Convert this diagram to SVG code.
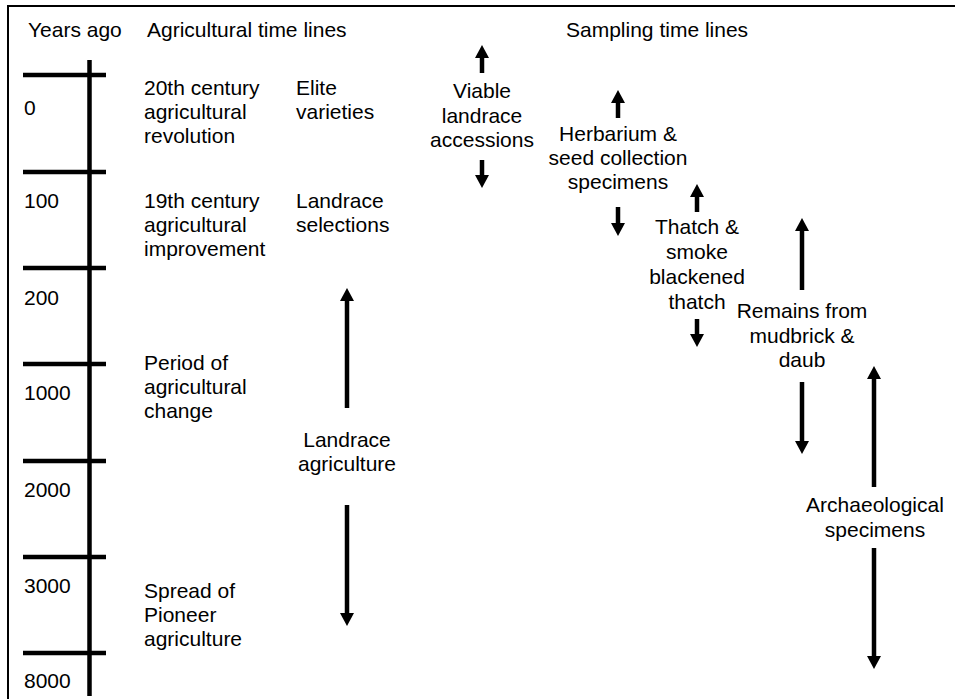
<svg xmlns="http://www.w3.org/2000/svg" width="955" height="699" viewBox="0 0 955 699">
<style>
text{font-family:"Liberation Sans",Arial,sans-serif;font-size:21px;fill:#000}
.c{text-anchor:middle}
.frame{stroke:#000;stroke-width:2;fill:none}
.axis{stroke:#000;stroke-width:4.5;fill:none}
.tick{stroke:#000;stroke-width:4.5}
.arr{stroke:#000;stroke-width:4.5;fill:none;marker-end:url(#ah)}
</style>
<defs>
<marker id="ah" markerUnits="userSpaceOnUse" markerWidth="14" markerHeight="14" viewBox="0 0 14 14" refX="1" refY="7" orient="auto">
<path d="M0,0 L13,7 L0,14 Z" fill="#000"/>
</marker>
</defs>
<rect width="955" height="699" fill="#fff"/>
<g id="frame">
<line class="frame" x1="8" y1="6" x2="955" y2="6"/>
<line class="frame" x1="8" y1="5" x2="8" y2="699"/>
</g>
<g id="headers">
<text x="28" y="37">Years ago</text>
<text x="147" y="37">Agricultural time lines</text>
<text x="566" y="37">Sampling time lines</text>
</g>
<g id="timeline">
<line class="axis" x1="89.5" y1="60" x2="89.5" y2="696"/>
<line class="tick" x1="23" y1="75" x2="106" y2="75"/>
<line class="tick" x1="23" y1="172" x2="106" y2="172"/>
<line class="tick" x1="23" y1="268" x2="106" y2="268"/>
<line class="tick" x1="23" y1="364" x2="106" y2="364"/>
<line class="tick" x1="23" y1="461" x2="106" y2="461"/>
<line class="tick" x1="23" y1="557" x2="106" y2="557"/>
<line class="tick" x1="23" y1="653" x2="106" y2="653"/>
<text x="24" y="115">0</text>
<text x="24" y="208">100</text>
<text x="24" y="305">200</text>
<text x="24" y="400">1000</text>
<text x="24" y="497">2000</text>
<text x="24" y="593">3000</text>
<text x="24" y="688">8000</text>
</g>
<g id="agri-20th"><text x="144" y="95">20th century</text><text x="144" y="119">agricultural</text><text x="144" y="143">revolution</text></g>
<g id="agri-19th"><text x="144" y="208">19th century</text><text x="144" y="232">agricultural</text><text x="144" y="256">improvement</text></g>
<g id="agri-change"><text x="144" y="370">Period of</text><text x="144" y="394">agricultural</text><text x="144" y="418">change</text></g>
<g id="agri-spread"><text x="144" y="598">Spread of</text><text x="144" y="622">Pioneer</text><text x="144" y="646">agriculture</text></g>
<g id="elite"><text x="296" y="95">Elite</text><text x="296" y="119">varieties</text></g>
<g id="landrace-sel"><text x="296" y="208">Landrace</text><text x="296" y="232">selections</text></g>
<g id="landrace-agri"><text class="c" x="347" y="447">Landrace</text><text class="c" x="347" y="471">agriculture</text></g>
<g id="viable"><text class="c" x="482" y="98">Viable</text><text class="c" x="482" y="123">landrace</text><text class="c" x="482" y="147">accessions</text></g>
<g id="herbarium"><text class="c" x="618" y="141">Herbarium &amp;</text><text class="c" x="618" y="165">seed collection</text><text class="c" x="618" y="189">specimens</text></g>
<g id="thatch"><text class="c" x="697" y="234">Thatch &amp;</text><text class="c" x="697" y="259">smoke</text><text class="c" x="697" y="284">blackened</text><text class="c" x="697" y="309">thatch</text></g>
<g id="remains"><text class="c" x="802" y="318">Remains from</text><text class="c" x="802" y="343">mudbrick &amp;</text><text class="c" x="802" y="367">daub</text></g>
<g id="archaeo"><text class="c" x="875" y="512">Archaeological</text><text class="c" x="875" y="537">specimens</text></g>
<g id="connectors">
<line class="arr" x1="347" y1="408" x2="347" y2="300"/>
<line class="arr" x1="347" y1="505" x2="347" y2="614"/>
<line class="arr" x1="482" y1="73" x2="482" y2="57"/>
<line class="arr" x1="482" y1="160" x2="482" y2="176"/>
<line class="arr" x1="618" y1="118" x2="618" y2="102"/>
<line class="arr" x1="618" y1="207" x2="618" y2="224"/>
<line class="arr" x1="697" y1="212" x2="697" y2="196"/>
<line class="arr" x1="697" y1="319" x2="697" y2="335"/>
<line class="arr" x1="802" y1="290" x2="802" y2="230"/>
<line class="arr" x1="802" y1="382" x2="802" y2="442"/>
<line class="arr" x1="874" y1="487" x2="874" y2="378"/>
<line class="arr" x1="874" y1="548" x2="874" y2="657"/>
</g>
</svg>
